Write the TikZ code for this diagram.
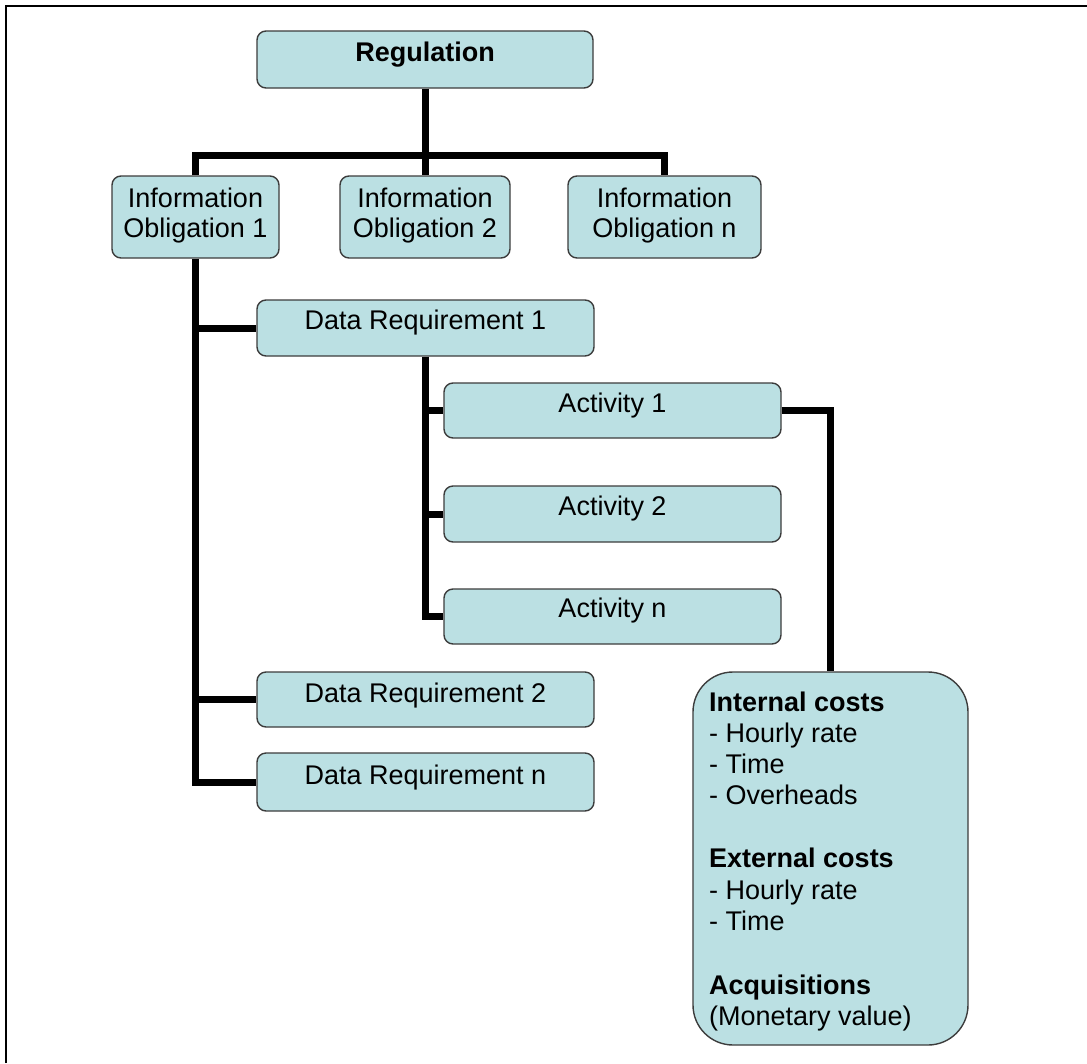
\documentclass[tikz,border=0pt]{standalone}
\usepackage{fontspec}
\setmainfont{Liberation Sans}
\definecolor{boxfill}{RGB}{187,224,227}
\definecolor{boxline}{RGB}{60,60,60}
\begin{document}
\begin{tikzpicture}[x=1pt,y=-1pt,
  box/.style={draw=boxline,fill=boxfill,line width=1.4pt,rounded corners=9pt,inner sep=0pt},
  lbl/.style={inner sep=0pt,font=\fontsize{27}{30}\selectfont},
  conn/.style={line width=7pt,black,line join=miter}]
\useasboundingbox (0,0) rectangle (1087,1063);
\draw[line width=2.2pt] (6,1063) -- (6,6) -- (1087,6);

% boxes
\node[box,minimum width=336pt,minimum height=57pt] (reg) at (425,59.5) {};
\node[box,minimum width=167pt,minimum height=82pt] (io1) at (195.5,217) {};
\node[box,minimum width=170pt,minimum height=82pt] (io2) at (425,217) {};
\node[box,minimum width=193pt,minimum height=82pt] (ion) at (664.5,217) {};
\node[box,minimum width=337pt,minimum height=56pt] (dr1) at (425.5,328) {};
\node[box,minimum width=337pt,minimum height=55pt] (act1) at (612.5,410.5) {};
\node[box,minimum width=337pt,minimum height=56pt] (act2) at (612.5,514) {};
\node[box,minimum width=337pt,minimum height=55pt] (actn) at (612.5,616.5) {};
\node[box,minimum width=337pt,minimum height=55pt] (dr2) at (425.5,699.5) {};
\node[box,minimum width=337pt,minimum height=58pt] (drn) at (425.5,782) {};
\node[box,rounded corners=40pt,minimum width=275pt,minimum height=373pt] (costs) at (830.5,858.5) {};

% labels
\node[lbl,anchor=base] (regt) at (425,61) {\bfseries Regulation};
\node[lbl,anchor=base] (io1a) at (195.5,207) {Information};
\node[lbl,anchor=base] (io1b) at (195.5,237) {Obligation 1};
\node[lbl,anchor=base] (io2a) at (425,207) {Information};
\node[lbl,anchor=base] (io2b) at (425,237) {Obligation 2};
\node[lbl,anchor=base] (iona) at (664.5,207) {Information};
\node[lbl,anchor=base] (ionb) at (664.5,237) {Obligation n};
\node[lbl,anchor=base] (dr1t) at (425.5,329) {Data Requirement 1};
\node[lbl,anchor=base] (act1t) at (612.5,412) {Activity 1};
\node[lbl,anchor=base] (act2t) at (612.5,515) {Activity 2};
\node[lbl,anchor=base] (actnt) at (612.5,617) {Activity n};
\node[lbl,anchor=base] (dr2t) at (425.5,702) {Data Requirement 2};
\node[lbl,anchor=base] (drnt) at (425.5,784) {Data Requirement n};

\node[lbl,anchor=base west] (c1) at (709,711) {\bfseries Internal costs};
\node[lbl,anchor=base west] (c2) at (709,742) {- Hourly rate};
\node[lbl,anchor=base west] (c3) at (709,773) {- Time};
\node[lbl,anchor=base west] (c4) at (709,804) {- Overheads};
\node[lbl,anchor=base west] (c5) at (709,867) {\bfseries External costs};
\node[lbl,anchor=base west] (c6) at (709,899) {- Hourly rate};
\node[lbl,anchor=base west] (c7) at (709,930) {- Time};
\node[lbl,anchor=base west] (c8) at (709,994) {\bfseries Acquisitions};
\node[lbl,anchor=base west] (c9) at (709,1025) {(Monetary value)};

% connectors
\coordinate (bus) at (426,155);
\draw[conn] (reg.south) -- (io2.north);
\draw[conn] (io1.north) |- (bus) -| (ion.north);
\draw[conn] (io1.south) |- (drn.west);
\draw[conn] (io1.south |- dr1.west) -- (dr1.west);
\draw[conn] (io1.south |- dr2.west) -- (dr2.west);
\draw[conn] (dr1.south) |- (actn.west);
\draw[conn] (dr1.south |- act1.west) -- (act1.west);
\draw[conn] (dr1.south |- act2.west) -- (act2.west);
\draw[conn] (act1.east) -| (costs.north);
\end{tikzpicture}
\end{document}
